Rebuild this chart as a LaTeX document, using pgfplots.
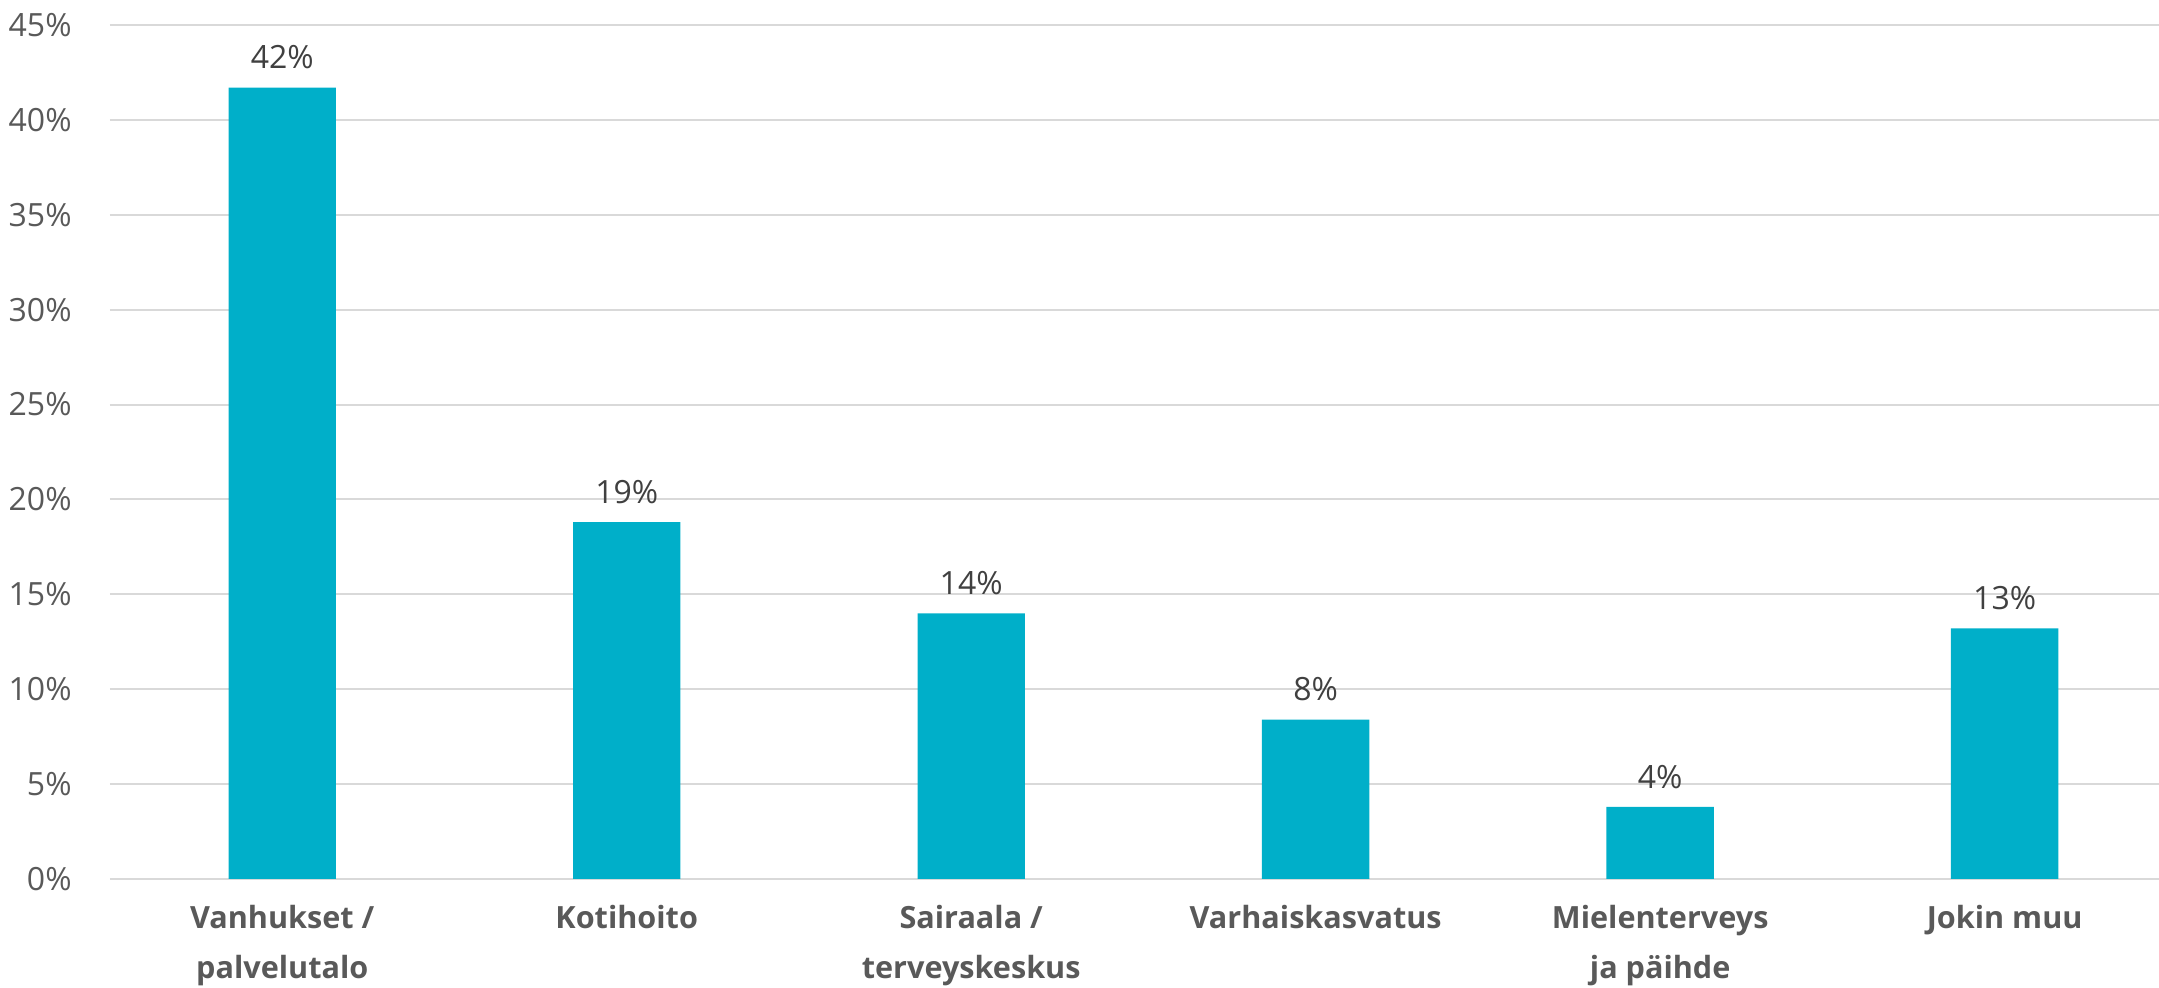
\documentclass[border=0pt]{standalone}
\usepackage{pgfplots}
\pgfplotsset{compat=1.18}
\usepackage{fontspec}
\setmainfont{Open Sans}
\definecolor{barc}{RGB}{0,175,201}
\definecolor{gridc}{RGB}{217,217,217}
\definecolor{tickc}{RGB}{89,89,89}
\definecolor{labc}{RGB}{64,64,64}
\begin{document}
\begin{tikzpicture}
\begin{axis}[
  at={(0,0)}, anchor=south west,
  scale only axis,
  width=1033.5pt, height=427pt,
  xmin=-0.5, xmax=5.5,
  ymin=0, ymax=45,
  ytick={0,5,...,45},
  xtick={0,1,2,3,4,5},
  xticklabels={{Vanhukset /\\palvelutalo},{Kotihoito},{Sairaala /\\terveyskeskus},{Varhaiskasvatus},{Mielenterveys\\ja päihde},{Jokin muu}},
  /pgf/number format/assume math mode=true,
  yticklabel={\pgfmathprintnumber{\tick}\%},
  major tick length=0pt,
  axis line style={draw=none},
  ymajorgrids,
  major grid style={gridc, line width=1pt},
  yticklabel style={font=\fontsize{16}{19}\selectfont, text=tickc, anchor=east, inner sep=0pt, xshift=-19pt},
  xticklabel style={font=\fontsize{15.3}{25}\selectfont\bfseries, text=tickc, align=center, anchor=north, inner sep=0pt, yshift=-13pt},
  ybar, bar width=53.7pt,
  nodes near coords={\pgfmathprintnumber[fixed,precision=0]{\pgfplotspointmeta}\%},
  every node near coord/.append style={font=\fontsize{16}{19}\selectfont, text=labc, anchor=south, inner sep=0pt, yshift=9pt},
  clip=false,
]
\addplot[fill=barc, draw=none] coordinates {(0,41.7) (1,18.8) (2,14.0) (3,8.4) (4,3.8) (5,13.2)};
\end{axis}
\pgfresetboundingbox
\path (-55pt,-54.5pt) rectangle (1024.5pt,439.5pt);
\end{tikzpicture}
\end{document}
